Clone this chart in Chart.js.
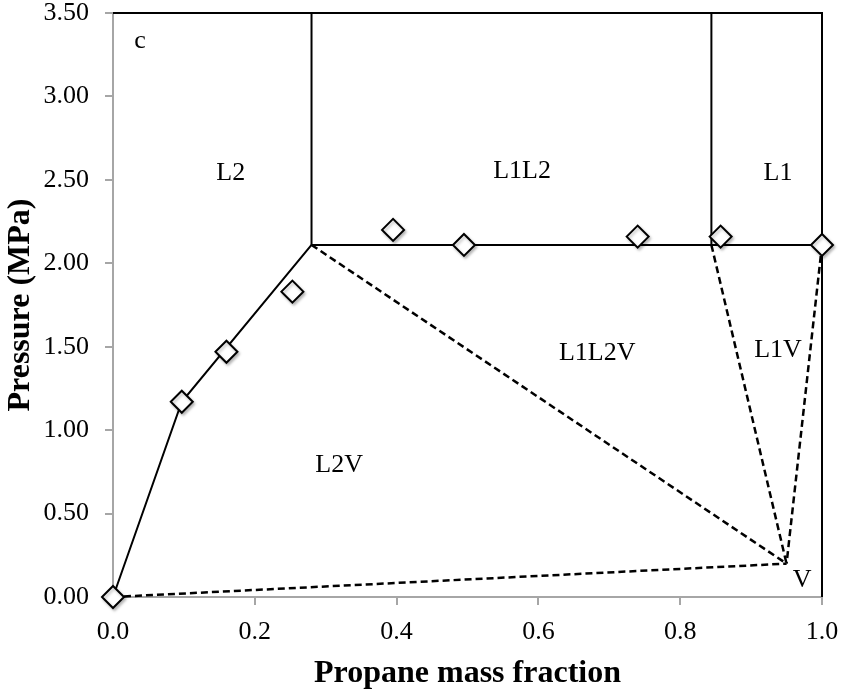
<!DOCTYPE html>
<html>
<head>
<meta charset="utf-8">
<script src="https://cdn.jsdelivr.net/npm/chart.js@4.4.1/dist/chart.umd.min.js"></script>
<style>
  html, body { margin: 0; padding: 0; background: #fff; }
  #wrap { width: 841px; height: 693px; position: relative; }
</style>
</head>
<body>
<div id="wrap"><canvas id="phaseChart"></canvas></div>
<script>
// measured points (diamonds)
const measuredX = [0, 0.097, 0.16, 0.253, 0.395, 0.495, 0.74, 0.857, 1.0];
const measuredP = [0, 1.17, 1.47, 1.83, 2.20, 2.11, 2.16, 2.16, 2.11];

// solid phase boundaries
const l2BoundaryX = [0, 0.097, 0.28];
const l2BoundaryP = [0, 1.17, 2.11];
const threePhaseX = [0.28, 1.0];
const threePhaseP = [2.11, 2.11];
const leftVerticalX = [0.28, 0.28];
const rightVerticalX = [0.844, 0.844];
const verticalP = [2.11, 3.5];
const frameX = [0, 1.0, 1.0];
const frameP = [3.5, 3.5, 0];

// dashed tie lines, all ending at the vapour point V
const vaporX = 0.95;
const vaporP = 0.2;
const tieStartX = [0, 0.28, 0.844, 1.0];
const tieStartP = [0, 2.11, 2.11, 2.11];

// region names
const regionNames = ['c', 'L2', 'L1L2', 'L1', 'L1L2V', 'L1V', 'L2V', 'V'];
const regionX = [0.038, 0.166, 0.577, 0.938, 0.683, 0.938, 0.319, 0.972];
const regionP = [3.33, 2.54, 2.55, 2.54, 1.46, 1.48, 0.79, 0.1];

const xTickStep = 0.2;
const yTickStep = 0.5;

function toPoints(xs, ys) {
  return xs.map((x, i) => ({ x: x, y: ys[i] }));
}

function lineSet(points, dashed) {
  return {
    data: points,
    showLine: true,
    clip: false,
    borderColor: '#000',
    borderWidth: dashed ? 2.5 : 2,
    borderDash: dashed ? [7, 4] : [],
    pointRadius: 0,
    pointHoverRadius: 0,
    fill: false,
    tension: 0
  };
}

const datasets = [
  {
    data: toPoints(measuredX, measuredP),
    showLine: false,
    clip: false,
    pointStyle: 'rectRot',
    pointRadius: 11,
    pointBorderWidth: 2,
    pointBorderColor: '#000',
    pointBackgroundColor: '#fff'
  },
  lineSet(toPoints(l2BoundaryX, l2BoundaryP), false),
  lineSet(toPoints(threePhaseX, threePhaseP), false),
  lineSet(toPoints(leftVerticalX, verticalP), false),
  lineSet(toPoints(rightVerticalX, verticalP), false),
  lineSet(toPoints(frameX, frameP), false)
];

tieStartX.forEach((x, i) => {
  datasets.push(lineSet([{ x: x, y: tieStartP[i] }, { x: vaporX, y: vaporP }], true));
});

// light shadow under the diamonds
const markerShadow = {
  id: 'markerShadow',
  beforeDatasetDraw(chart, args) {
    if (args.index !== 0) return;
    const ctx = chart.ctx;
    ctx.save();
    ctx.shadowColor = 'rgba(0,0,0,0.25)';
    ctx.shadowBlur = 3;
    ctx.shadowOffsetX = 1.5;
    ctx.shadowOffsetY = 2;
  },
  afterDatasetDraw(chart, args) {
    if (args.index !== 0) return;
    chart.ctx.restore();
  }
};

const regionLabels = {
  id: 'regionLabels',
  afterDatasetsDraw(chart) {
    const ctx = chart.ctx;
    const xs = chart.scales.x;
    const ys = chart.scales.y;
    ctx.save();
    ctx.fillStyle = '#000';
    ctx.font = '26px "Liberation Serif", serif';
    ctx.textAlign = 'center';
    ctx.textBaseline = 'middle';
    regionNames.forEach((name, i) => {
      ctx.fillText(name, xs.getPixelForValue(regionX[i]), ys.getPixelForValue(regionP[i]));
    });
    ctx.restore();
  }
};

const axisGray = '#a6a6a6';
const tickFont = { family: '"Liberation Serif", serif', size: 26 };
const titleFont = { family: '"Liberation Serif", serif', size: 32, weight: 'bold' };

new Chart(document.getElementById('phaseChart'), {
  type: 'scatter',
  data: { datasets: datasets },
  options: {
    responsive: true,
    maintainAspectRatio: false,
    animation: false,
    layout: { padding: { left: 0, right: 19, top: 12, bottom: 0 } },
    plugins: {
      legend: { display: false },
      tooltip: { enabled: false }
    },
    scales: {
      x: {
        type: 'linear',
        min: 0,
        max: 1,
        afterFit(scale) {
          scale.height = 96;
          scale.paddingLeft = 0;
          scale.paddingRight = 0;
        },
        border: { display: true, color: axisGray, width: 2 },
        grid: { drawOnChartArea: false, drawTicks: true, tickLength: 8, color: axisGray, lineWidth: 2 },
        ticks: {
          stepSize: xTickStep,
          color: '#000',
          font: tickFont,
          padding: 12,
          maxRotation: 0,
          callback: v => v.toFixed(1)
        },
        title: {
          display: true,
          text: 'Propane mass fraction',
          color: '#000',
          font: titleFont,
          padding: { top: 0, bottom: 0 }
        }
      },
      y: {
        type: 'linear',
        min: 0,
        max: 3.5,
        afterFit(scale) {
          scale.width = 113;
          scale.paddingTop = 0;
          scale.paddingBottom = 0;
        },
        border: { display: true, color: axisGray, width: 2 },
        grid: { drawOnChartArea: false, drawTicks: true, tickLength: 8, color: axisGray, lineWidth: 2 },
        ticks: {
          stepSize: yTickStep,
          color: '#000',
          font: tickFont,
          padding: 16,
          callback: v => v.toFixed(2)
        },
        title: {
          display: true,
          text: 'Pressure (MPa)',
          color: '#000',
          font: titleFont,
          padding: { top: 2, bottom: 0 }
        }
      }
    }
  },
  plugins: [markerShadow, regionLabels]
});
</script>
</body>
</html>
